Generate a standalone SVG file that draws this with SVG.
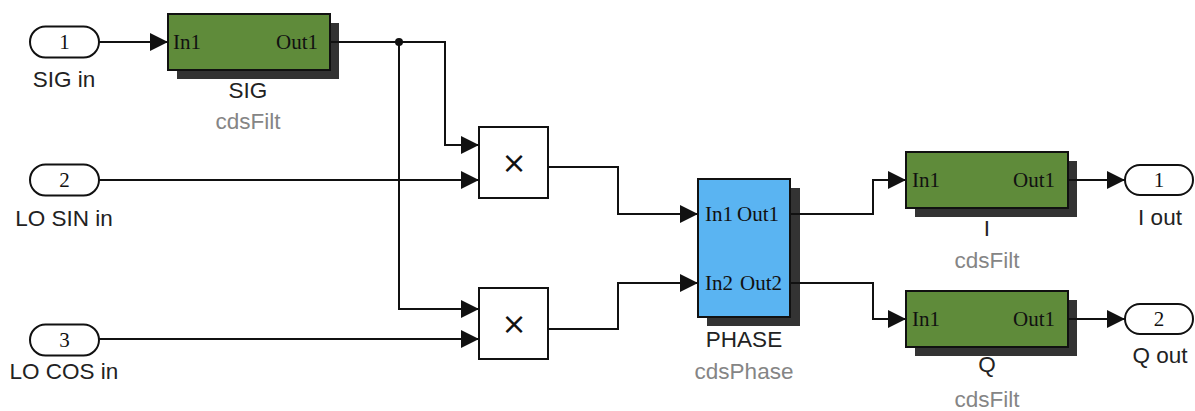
<svg xmlns="http://www.w3.org/2000/svg" width="1195" height="411" viewBox="0 0 1195 411">
<defs>
<style>
.blk{stroke:#111;stroke-width:2}
.green{fill:#5f8b3a}
.blue{fill:#5ab4f2}
.shadow{fill:#333}
.white{fill:#fff}
.pill{fill:#fff;stroke:#111;stroke-width:2}
.port{font-family:"Liberation Serif","Times New Roman",serif;font-size:21px;fill:#111}
.lbl{font-family:"Liberation Sans",Arial,sans-serif;font-size:22.5px;fill:#222;text-anchor:middle}
.sub{font-family:"Liberation Sans",Arial,sans-serif;font-size:22.5px;fill:#858585;text-anchor:middle}
.wire{fill:none;stroke:#111;stroke-width:2}
.mul{font-family:"DejaVu Sans",sans-serif;font-size:30px;fill:#111;text-anchor:middle}
</style>
<marker id="arr" markerUnits="userSpaceOnUse" markerWidth="19" markerHeight="19" refX="18" refY="9" orient="auto" viewBox="0 0 19 19">
<path d="M0,0 L18,9 L0,18 z" fill="#111"/>
</marker>
</defs>
<rect width="1195" height="411" fill="#fff"/>

<g id="in1">
<rect class="pill" x="30" y="26.5" width="69" height="31" rx="15.5"/>
<text class="port" x="64.5" y="49" text-anchor="middle">1</text>
<text class="lbl" x="64" y="87">SIG in</text>
</g>
<g id="in2">
<rect class="pill" x="30" y="164.5" width="69" height="31" rx="15.5"/>
<text class="port" x="64.5" y="187" text-anchor="middle">2</text>
<text class="lbl" x="64" y="226">LO SIN in</text>
</g>
<g id="in3">
<rect class="pill" x="30" y="324.5" width="69" height="31" rx="15.5"/>
<text class="port" x="64.5" y="347" text-anchor="middle">3</text>
<text class="lbl" x="64" y="379">LO COS in</text>
</g>

<g id="sig">
<rect class="shadow" x="177" y="23" width="162" height="56"/>
<rect class="blk green" x="168" y="14" width="162" height="56"/>
<text class="port" x="173" y="49">In1</text>
<text class="port" x="318" y="49" text-anchor="end">Out1</text>
<text class="lbl" x="248" y="98">SIG</text>
<text class="sub" x="248" y="129">cdsFilt</text>
</g>

<g id="mult1">
<rect class="blk white" x="479" y="127" width="69" height="71"/>
<text class="mul" x="514" y="173">×</text>
</g>
<g id="mult2">
<rect class="blk white" x="479" y="288" width="69" height="71"/>
<text class="mul" x="514" y="334">×</text>
</g>

<g id="phase">
<rect class="shadow" x="707" y="188" width="93" height="138"/>
<rect class="blk blue" x="698" y="179" width="92" height="138"/>
<text class="port" x="705" y="221" fill="#0c2038">In1</text>
<text class="port" x="779" y="221" text-anchor="end">Out1</text>
<text class="port" x="705" y="290">In2</text>
<text class="port" x="782" y="290" text-anchor="end">Out2</text>
<text class="lbl" x="744" y="347">PHASE</text>
<text class="sub" x="744" y="379">cdsPhase</text>
</g>

<g id="ifilt">
<rect class="shadow" x="915" y="161" width="162" height="56"/>
<rect class="blk green" x="906" y="152" width="162" height="56"/>
<text class="port" x="912" y="187">In1</text>
<text class="port" x="1055" y="187" text-anchor="end">Out1</text>
<text class="lbl" x="987" y="236">I</text>
<text class="sub" x="987" y="268">cdsFilt</text>
</g>
<g id="qfilt">
<rect class="shadow" x="915" y="300" width="162" height="56"/>
<rect class="blk green" x="906" y="291" width="162" height="56"/>
<text class="port" x="912" y="326">In1</text>
<text class="port" x="1055" y="326" text-anchor="end">Out1</text>
<text class="lbl" x="987" y="372">Q</text>
<text class="sub" x="987" y="407">cdsFilt</text>
</g>

<g id="out1">
<rect class="pill" x="1125" y="165" width="68" height="30" rx="15"/>
<text class="port" x="1159" y="187" text-anchor="middle">1</text>
<text class="lbl" x="1160" y="225">I out</text>
</g>
<g id="out2">
<rect class="pill" x="1125" y="304" width="68" height="30" rx="15"/>
<text class="port" x="1159" y="326" text-anchor="middle">2</text>
<text class="lbl" x="1160" y="363">Q out</text>
</g>

<g id="connectors">
<path class="wire" d="M99,42 H168" marker-end="url(#arr)"/>
<path class="wire" d="M330,42 H445 V145 H479" marker-end="url(#arr)"/>
<path class="wire" d="M399,42 V309 H479" marker-end="url(#arr)"/>
<circle cx="399" cy="42" r="4" fill="#111"/>
<path class="wire" d="M99,180 H479" marker-end="url(#arr)"/>
<path class="wire" d="M99,339 H479" marker-end="url(#arr)"/>
<path class="wire" d="M548,167 H618 V214 H698" marker-end="url(#arr)"/>
<path class="wire" d="M548,329 H618 V283 H698" marker-end="url(#arr)"/>
<path class="wire" d="M790,214 H873 V180 H906" marker-end="url(#arr)"/>
<path class="wire" d="M790,283 H873 V319 H906" marker-end="url(#arr)"/>
<path class="wire" d="M1068,180 H1125" marker-end="url(#arr)"/>
<path class="wire" d="M1068,319 H1125" marker-end="url(#arr)"/>
</g>
</svg>
